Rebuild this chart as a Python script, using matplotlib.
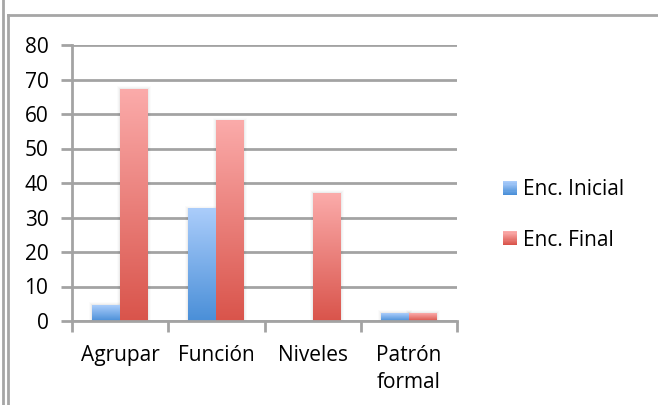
import numpy as np
import matplotlib
matplotlib.use("Agg")
import matplotlib.pyplot as plt
from matplotlib.colors import LinearSegmentedColormap
from matplotlib.legend_handler import HandlerBase
from matplotlib.patches import Rectangle
from matplotlib.lines import Line2D

plt.rcParams['font.family'] = ['Open Sans', 'DejaVu Sans']

categories = ["Agrupar", "Función", "Niveles", "Patrón\nformal"]
enc_inicial = [4.6, 32.5, 0, 2.2]
enc_final = [67.2, 58.0, 37.0, 2.2]
series_names = ["Enc. Inicial", "Enc. Final"]
y_ticks = [0, 10, 20, 30, 40, 50, 60, 70, 80]

blue_top, blue_bottom = "#abcdfb", "#4a8fd8"
red_top, red_bottom = "#fbabaa", "#d9544b"
grid_color = "#a3a3a3"

W, H = 658, 405
fig = plt.figure(figsize=(W / 100, H / 100), dpi=100)
ax = fig.add_axes([72 / W, 1 - 321 / H, (457 - 72) / W, (321 - 45) / H])

bar_w = 0.29
x = np.arange(len(categories))
px_x = 4.0 / 385   # one pixel in x data units
px_y = 80.0 / 276  # one pixel in y data units


def gradient_bar(xc, h, top, bottom, zorder=3):
    """Bar with a vertical gradient from `top` (upper edge) to `bottom`."""
    if h <= 0:
        return
    cmap = LinearSegmentedColormap.from_list("g", [bottom, top])
    grad = np.linspace(0, 1, 256).reshape(-1, 1)
    x0, x1 = xc - bar_w / 2, xc + bar_w / 2
    # soft halo shadow
    for d, a in [(1, 0.035), (2, 0.025), (3, 0.015)]:
        ax.add_patch(Rectangle((x0 - d * px_x, 0), bar_w + 2 * d * px_x,
                               h + d * px_y, facecolor="black", alpha=a, lw=0,
                               zorder=zorder - 0.5))
    ax.imshow(grad, cmap=cmap, origin="lower", aspect="auto",
              extent=(x0, x1, 0, h), zorder=zorder, interpolation="bilinear")


for xi, v in zip(x, enc_inicial):
    gradient_bar(xi - bar_w / 2, v, blue_top, blue_bottom)
for xi, v in zip(x, enc_final):
    gradient_bar(xi + bar_w / 2, v, red_top, red_bottom)

ax.set_xlim(-0.5, len(categories) - 0.5)
ax.set_ylim(0, 80)
ax.set_yticks(y_ticks)
ax.set_yticklabels([str(t) for t in y_ticks])
ax.set_xticks(x)
ax.set_xticklabels(categories, linespacing=1.4)
ax.set_xticks(np.arange(len(categories) + 1) - 0.5, minor=True)

ax.grid(axis="y", color=grid_color, lw=2, zorder=1)
ax.set_axisbelow(True)
for s in ["top", "right"]:
    ax.spines[s].set_visible(False)
for s in ["left", "bottom"]:
    ax.spines[s].set_color(grid_color)
    ax.spines[s].set_linewidth(2)
    ax.spines[s].set_zorder(4)

ax.tick_params(axis="y", length=8, width=2, color=grid_color, labelsize=15,
               pad=9, labelcolor="black")
ax.tick_params(axis="x", which="major", length=0, labelsize=15, pad=17,
               labelcolor="black")
ax.tick_params(axis="x", which="minor", length=8, width=2, color=grid_color)
for lbl in ax.get_xticklabels():
    lbl.set_verticalalignment("top")


class GradientHandler(HandlerBase):
    def __init__(self, top, bottom):
        super().__init__()
        self.top, self.bottom = top, bottom

    def create_artists(self, legend, orig_handle, xdescent, ydescent, width,
                       height, fontsize, trans):
        cmap = LinearSegmentedColormap.from_list("g", [self.bottom, self.top])
        n = 12
        side = height * 1.0
        x0 = -xdescent + (width - side)
        y0 = -ydescent + (height - side) / 2
        arts = []
        for i in range(n):
            r = Rectangle((x0, y0 + side * i / n), side, side / n + 0.2,
                          facecolor=cmap(i / (n - 1)), lw=0, transform=trans)
            arts.append(r)
        return arts


h_blue = Rectangle((0, 0), 1, 1)
h_red = Rectangle((0, 0), 1, 1)
leg = fig.legend([h_blue, h_red], series_names,
                 handler_map={h_blue: GradientHandler(blue_top, blue_bottom),
                              h_red: GradientHandler(red_top, red_bottom)},
                 loc="center left", bbox_to_anchor=(503 / W, 1 - 215 / H),
                 frameon=False, fontsize=15, handlelength=0.65, handleheight=0.65,
                 handletextpad=0.3, labelspacing=1.4, borderpad=0,
                 borderaxespad=0)

# chart area frame
frame_kw = dict(color="#a6a6a6", lw=2, transform=fig.transFigure)
fig.add_artist(Line2D([7.5 / W, 7.5 / W], [0, 1 - 14.5 / H], **frame_kw))
fig.add_artist(Line2D([7.5 / W, 1], [1 - 14.5 / H, 1 - 14.5 / H], **frame_kw))
fig.add_artist(Line2D([2.5 / W, 2.5 / W], [0, 1], **frame_kw))

fig.savefig("out.png", dpi=100)
